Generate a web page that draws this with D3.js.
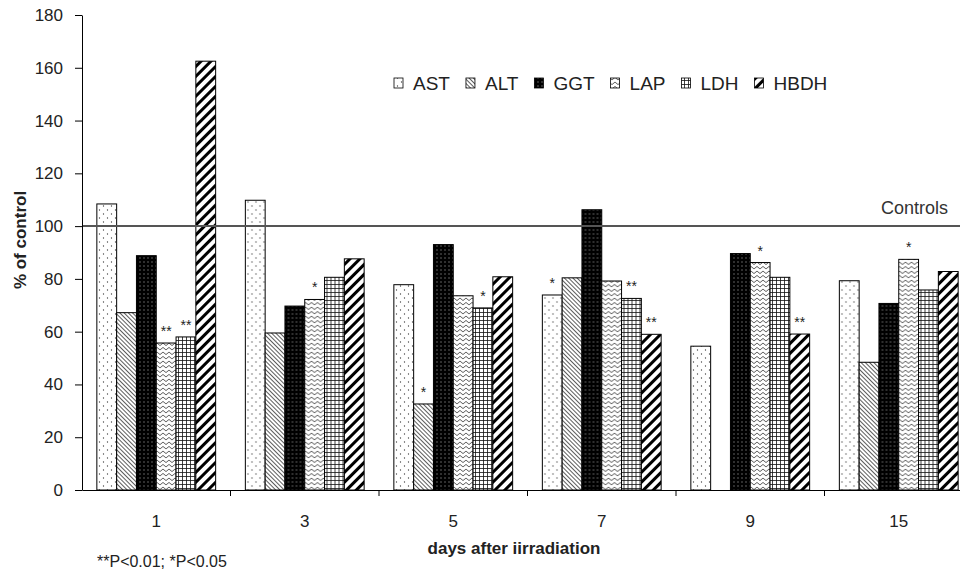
<!DOCTYPE html>
<html>
<head>
<meta charset="utf-8">
<script src="https://cdn.jsdelivr.net/npm/d3@7"></script>
<style>
  body { margin: 0; background: #fff; }
  svg { display: block; font-family: "Liberation Sans", Arial, sans-serif; }
</style>
</head>
<body>
<svg id="chart" width="960" height="570"></svg>
<script>
// values (% of control)
const days = ["1", "3", "5", "7", "9", "15"];
const enzymes = ["AST", "ALT", "GGT", "LAP", "LDH", "HBDH"];
const yTicks = [0, 20, 40, 60, 80, 100, 120, 140, 160, 180];

const ast  = [108.4, 109.8, 77.8, 73.9, 54.5, 79.3];
const alt  = [67.2, 59.5, 32.6, 80.4, null, 48.4];
const ggt  = [88.8, 69.7, 93.0, 106.2, 89.6, 70.7];
const lap  = [55.7, 72.2, 73.6, 79.2, 86.2, 87.4];
const ldh  = [58.0, 80.6, 69.0, 72.6, 80.6, 75.8];
const hbdh = [162.5, 87.6, 80.8, 59.0, 59.1, 82.8];

// significance marks above bars
const astSig  = ["", "", "", "*", "", ""];
const altSig  = ["", "", "*", "", "", ""];
const ggtSig  = ["", "", "", "", "", ""];
const lapSig  = ["**", "*", "", "", "*", "*"];
const ldhSig  = ["**", "", "*", "**", "", ""];
const hbdhSig = ["", "", "", "**", "**", ""];

const controlValue = 100;

const values = { AST: ast, ALT: alt, GGT: ggt, LAP: lap, LDH: ldh, HBDH: hbdh };
const sigs = { AST: astSig, ALT: altSig, GGT: ggtSig, LAP: lapSig, LDH: ldhSig, HBDH: hbdhSig };

const svg = d3.select("#chart");
const defs = svg.append("defs");

// ---- fill patterns ----
function pattern(id, w, h, bg, transform) {
  const p = defs.append("pattern")
    .attr("id", id)
    .attr("patternUnits", "userSpaceOnUse")
    .attr("width", w)
    .attr("height", h);
  if (transform) p.attr("patternTransform", transform);
  p.append("rect").attr("width", w).attr("height", h).attr("fill", bg);
  return p;
}

const pAst = pattern("p-AST", 8, 8, "#fff");
pAst.append("circle").attr("cx", 1.5).attr("cy", 2).attr("r", 0.65).attr("fill", "#444");
pAst.append("circle").attr("cx", 5.5).attr("cy", 6).attr("r", 0.65).attr("fill", "#444");

const pAlt = pattern("p-ALT", 3, 3, "#fff", "rotate(-45)");
pAlt.append("line").attr("x1", 0.5).attr("y1", 0).attr("x2", 0.5).attr("y2", 3)
  .attr("stroke", "#333").attr("stroke-width", 0.8);

const pGgt = pattern("p-GGT", 4, 4, "#000");
pGgt.append("rect").attr("x", 1.5).attr("y", 1.5).attr("width", 1).attr("height", 1).attr("fill", "#bbb");

const pLap = pattern("p-LAP", 6, 4.5, "#fff");
pLap.append("path").attr("d", "M0,3.5L3,1L6,3.5")
  .attr("fill", "none").attr("stroke", "#222").attr("stroke-width", 0.8);

const pLdh = pattern("p-LDH", 4, 4, "#fff");
pLdh.append("path").attr("d", "M0,0.5H4M0.5,0V4")
  .attr("fill", "none").attr("stroke", "#111").attr("stroke-width", 0.8);

const pHbdh = pattern("p-HBDH", 7, 7, "#fff", "rotate(45)");
pHbdh.append("rect").attr("x", 0).attr("y", 0).attr("width", 3).attr("height", 7).attr("fill", "#000");

// ---- scales ----
const x0 = d3.scaleBand().domain(days).range([82, 973]);
const x1 = d3.scaleBand().domain(enzymes).range([0, x0.bandwidth()]).paddingOuter(0.75);
const y = d3.scaleLinear().domain([0, 180]).range([490, 15]);

// ---- bars ----
const groups = svg.append("g").selectAll("g")
  .data(days)
  .enter().append("g")
  .attr("transform", d => `translate(${x0(d)},0)`);

groups.each(function (day, i) {
  const g = d3.select(this);
  enzymes.forEach(e => {
    const v = values[e][i];
    if (v == null) return;
    g.append("rect")
      .attr("x", x1(e))
      .attr("y", y(v))
      .attr("width", x1.bandwidth())
      .attr("height", y(0) - y(v))
      .attr("fill", `url(#p-${e})`)
      .attr("stroke", "#000")
      .attr("stroke-width", 1);
    const s = sigs[e][i];
    if (s) {
      g.append("text")
        .attr("x", x1(e) + x1.bandwidth() / 2)
        .attr("y", y(v) - 7)
        .attr("text-anchor", "middle")
        .attr("font-size", 14)
        .attr("fill", "#222")
        .text(s);
    }
  });
});

// ---- controls line ----
svg.append("line")
  .attr("x1", x0.range()[0]).attr("x2", x0.range()[1])
  .attr("y1", y(controlValue)).attr("y2", y(controlValue))
  .attr("stroke", "#555").attr("stroke-width", 2);

svg.append("text")
  .attr("x", 948).attr("y", y(controlValue) - 12)
  .attr("text-anchor", "end")
  .attr("font-size", 18)
  .attr("fill", "#333")
  .text("Controls");

// ---- axes ----
const yAxis = svg.append("g")
  .attr("transform", "translate(82,0)")
  .call(d3.axisLeft(y).tickValues(yTicks).tickSize(7).tickPadding(12).tickSizeOuter(0));
yAxis.select(".domain").attr("stroke", "#000");
yAxis.selectAll("text").attr("font-size", 17).attr("fill", "#222").attr("font-family", null);

const xAxis = svg.append("g")
  .attr("transform", "translate(0,490)")
  .call(d3.axisBottom(x0).tickSize(0).tickPadding(25).tickSizeOuter(0));
xAxis.select(".domain").attr("stroke", "#000");
xAxis.selectAll("text").attr("font-size", 17).attr("fill", "#222").attr("font-family", null);

// group boundary ticks
svg.append("g").selectAll("line")
  .data(days.slice(1))
  .enter().append("line")
  .attr("x1", d => x0(d)).attr("x2", d => x0(d))
  .attr("y1", 490).attr("y2", 496)
  .attr("stroke", "#000");

// ---- titles ----
svg.append("text")
  .attr("transform", "translate(26,240) rotate(-90)")
  .attr("text-anchor", "middle")
  .attr("font-size", 17)
  .attr("font-weight", "bold")
  .attr("fill", "#222")
  .text("% of control");

svg.append("text")
  .attr("x", 514).attr("y", 554)
  .attr("text-anchor", "middle")
  .attr("font-size", 17)
  .attr("font-weight", "bold")
  .attr("fill", "#222")
  .text("days after iirradiation");

svg.append("text")
  .attr("x", 97).attr("y", 567)
  .attr("font-size", 16)
  .attr("fill", "#222")
  .text("**P<0.01; *P<0.05");

// ---- legend ----
const legend = svg.append("g");
let lx = 394;
enzymes.forEach(e => {
  legend.append("rect")
    .attr("x", lx).attr("y", 78)
    .attr("width", 9).attr("height", 10)
    .attr("fill", `url(#p-${e})`)
    .attr("stroke", "#000").attr("stroke-width", 0.8);
  const t = legend.append("text")
    .attr("x", lx + 19).attr("y", 90)
    .attr("font-size", 19)
    .attr("fill", "#222")
    .text(e);
  lx += 19 + t.node().getComputedTextLength() + 16;
});
</script>
</body>
</html>
